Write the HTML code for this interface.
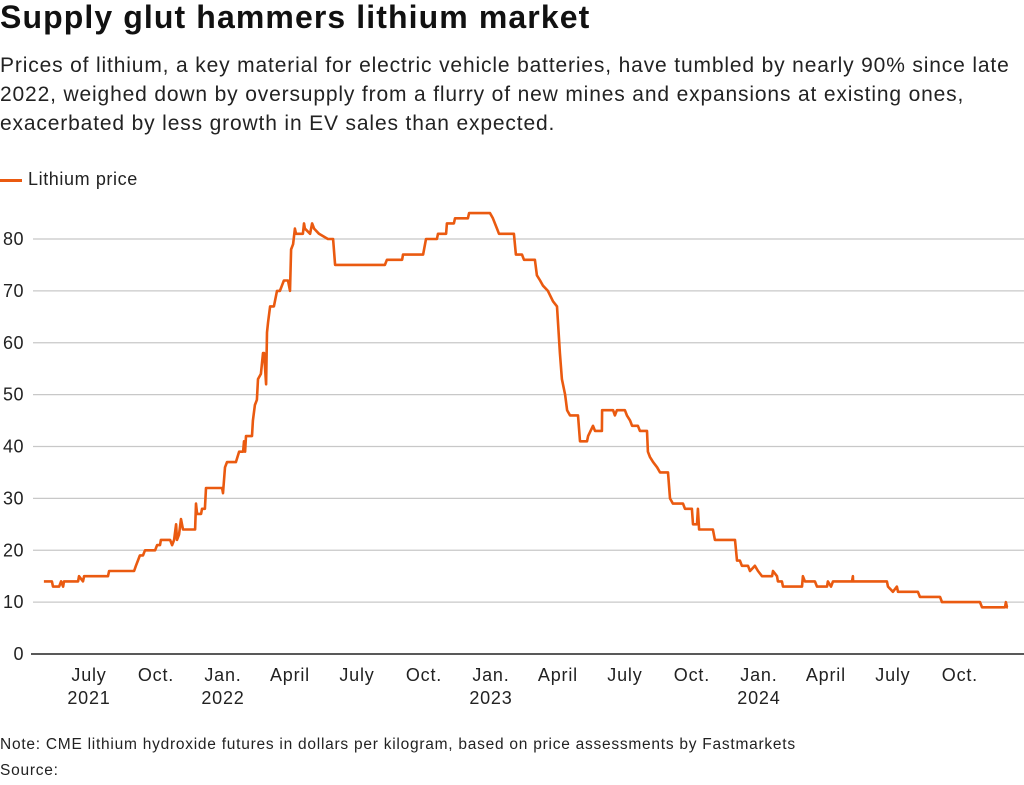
<!DOCTYPE html>
<html><head><meta charset="utf-8"><style>
body{margin:0;width:1024px;height:785px;background:#fff;font-family:"Liberation Sans",Arial,sans-serif;color:#222;overflow:hidden;position:relative}
.t{position:absolute;left:0;margin:0;white-space:nowrap}
</style></head><body>
<h1 class="t" style="top:-1px;font-size:32px;font-weight:bold;letter-spacing:1.1px;color:#111">Supply glut hammers lithium market</h1>
<div style="position:absolute;left:0;top:52px;font-size:21px;line-height:28.8px;letter-spacing:0.85px;color:#222">
<div>Prices of lithium, a key material for electric vehicle batteries, have tumbled by nearly 90% since late</div>
<div>2022, weighed down by oversupply from a flurry of new mines and expansions at existing ones,</div>
<div>exacerbated by less growth in EV sales than expected.</div></div>
<div style="position:absolute;left:0;top:169px;font-size:18px;letter-spacing:0.6px;color:#222"><span style="display:inline-block;width:22px;height:3px;background:#ea5a10;vertical-align:middle;margin-right:6px"></span>Lithium price</div>
<svg id="chart" width="1024" height="785" style="position:absolute;left:0;top:0"></svg>
<p class="t" style="top:736px;font-size:15.5px;letter-spacing:0.75px;color:#222">Note: CME lithium hydroxide futures in dollars per kilogram, based on price assessments by Fastmarkets</p>
<p class="t" style="top:762px;font-size:15.5px;letter-spacing:0.75px;color:#222">Source:</p>
<script>
// months since Jan 1 2021
const months=[3.98,4.34,4.39,4.66,4.75,4.84,4.88,5.51,5.55,5.73,5.78,6.85,6.90,8.02,8.10,8.19,8.28,8.42,8.51,8.96,9.05,9.18,9.22,9.63,9.72,9.81,9.90,9.94,10.03,10.12,10.21,10.75,10.79,10.84,11.02,11.06,11.19,11.24,11.96,12.00,12.09,12.18,12.58,12.72,12.90,12.94,12.99,13.03,13.30,13.34,13.43,13.52,13.57,13.70,13.79,13.84,13.93,13.97,14.02,14.11,14.28,14.42,14.55,14.64,14.73,14.91,15.00,15.05,15.14,15.22,15.27,15.58,15.63,15.67,15.90,15.99,16.08,16.30,16.70,16.93,17.02,19.25,19.34,20.02,20.06,20.96,21.09,21.58,21.63,21.99,22.03,22.34,22.39,22.97,23.02,23.96,24.09,24.27,24.36,25.03,25.12,25.39,25.48,25.97,26.06,26.20,26.33,26.55,26.78,26.96,27.09,27.18,27.32,27.41,27.54,27.90,27.99,28.30,28.35,28.57,28.66,28.97,28.98,29.20,29.47,29.55,29.64,30.00,30.09,30.23,30.32,30.58,30.67,30.99,31.03,31.12,31.26,31.44,31.57,31.93,32.02,32.15,32.60,32.69,33.00,33.05,33.23,33.27,33.32,
33.94,34.03,34.39,34.93,35.02,35.15,35.24,35.51,35.60,35.82,35.96,36.14,36.59,36.63,36.81,36.85,37.03,37.08,37.93,37.97,38.06,38.51,38.60,39.05,39.09,39.23,39.32,40.17,40.21,40.22,41.73,41.78,42.00,42.18,42.23,43.12,43.21,44.11,44.20,45.90,45.99,47.02,47.06,47.11,47.15];
const prices=[14,14,13,13,14,13,14,14,15,14,15,15,16,16,17,18,19,19,20,20,21,21,22,22,21,22,25,22,23,26,24,24,29,27,27,28,28,32,32,31,36,37,37,39,39,41,39,42,42,45,48,49,53,54,58,58,52,62,64,67,67,70,70,71,72,72,70,78,79,82,81,81,83,82,81,83,82,81,80,80,75,75,76,76,77,77,80,80,81,81,83,83,84,84,85,85,84,82,81,81,77,77,76,76,73,72,71,70,68,67,58,53,50,47,46,46,41,41,42,44,43,43,47,47,47,46,47,47,46,45,44,44,43,43,39,38,37,36,35,35,30,29,29,28,28,25,25,28,24,
24,22,22,22,18,18,17,17,16,17,16,15,15,16,15,14,14,13,13,15,14,14,13,13,14,13,14,14,15,14,14,13,12,13,12,12,11,11,10,10,9,9,10,9,9];
const yTicks=[0,10,20,30,40,50,60,70,80];
const xTickMonths=[6,9,12,15,18,21,24,27,30,33,36,39,42,45];
const xTickLabels=["July","Oct.","Jan.","April","July","Oct.","Jan.","April","July","Oct.","Jan.","April","July","Oct."];
const xTickYears=["2021","","2022","","","","2023","","","","2024","","",""];

const NS="http://www.w3.org/2000/svg";
const svg=document.getElementById('chart');
const X=m=>89+(m-6)*22.33;
const Y=v=>654-v*5.1875;
function mk(t,a){const e=document.createElementNS(NS,t);for(const k in a)e.setAttribute(k,a[k]);svg.appendChild(e);return e;}
const FONT='Liberation Sans, Arial, sans-serif';
yTicks.forEach(v=>{
  if(v>0){const g=mk('line',{x1:33,x2:1024,y1:Y(v),y2:Y(v),stroke:'#c8c8c8','stroke-width':1.2});
  
  }
  const t=mk('text',{x:24,y:Y(v)+6,'text-anchor':'end','font-size':18,'letter-spacing':0.5,fill:'#222','font-family':FONT});
  t.textContent=v;
  
  
});
const ax=mk('line',{x1:31,x2:1024,y1:654,y2:654,stroke:'#222','stroke-width':1.5});


xTickMonths.forEach((m,i)=>{
  const t=mk('text',{x:X(m),y:681,'text-anchor':'middle','font-size':18,'letter-spacing':0.8,fill:'#222','font-family':FONT});
  t.textContent=xTickLabels[i];
  
  
  if(xTickYears[i]){const y=mk('text',{x:X(m),y:704,'text-anchor':'middle','font-size':18,'letter-spacing':0.8,fill:'#222','font-family':FONT});
  y.textContent=xTickYears[i];
  
  }
});
const n=Math.min(months.length,prices.length);
let d='';
for(let i=0;i<n;i++){d+=(i?'L':'M')+X(months[i]).toFixed(1)+','+Y(prices[i]).toFixed(1);}
const p=mk('path',{d:d,fill:'none',stroke:'#ea5a10','stroke-width':2.6,'stroke-linejoin':'round'});


</script>
</body></html>
